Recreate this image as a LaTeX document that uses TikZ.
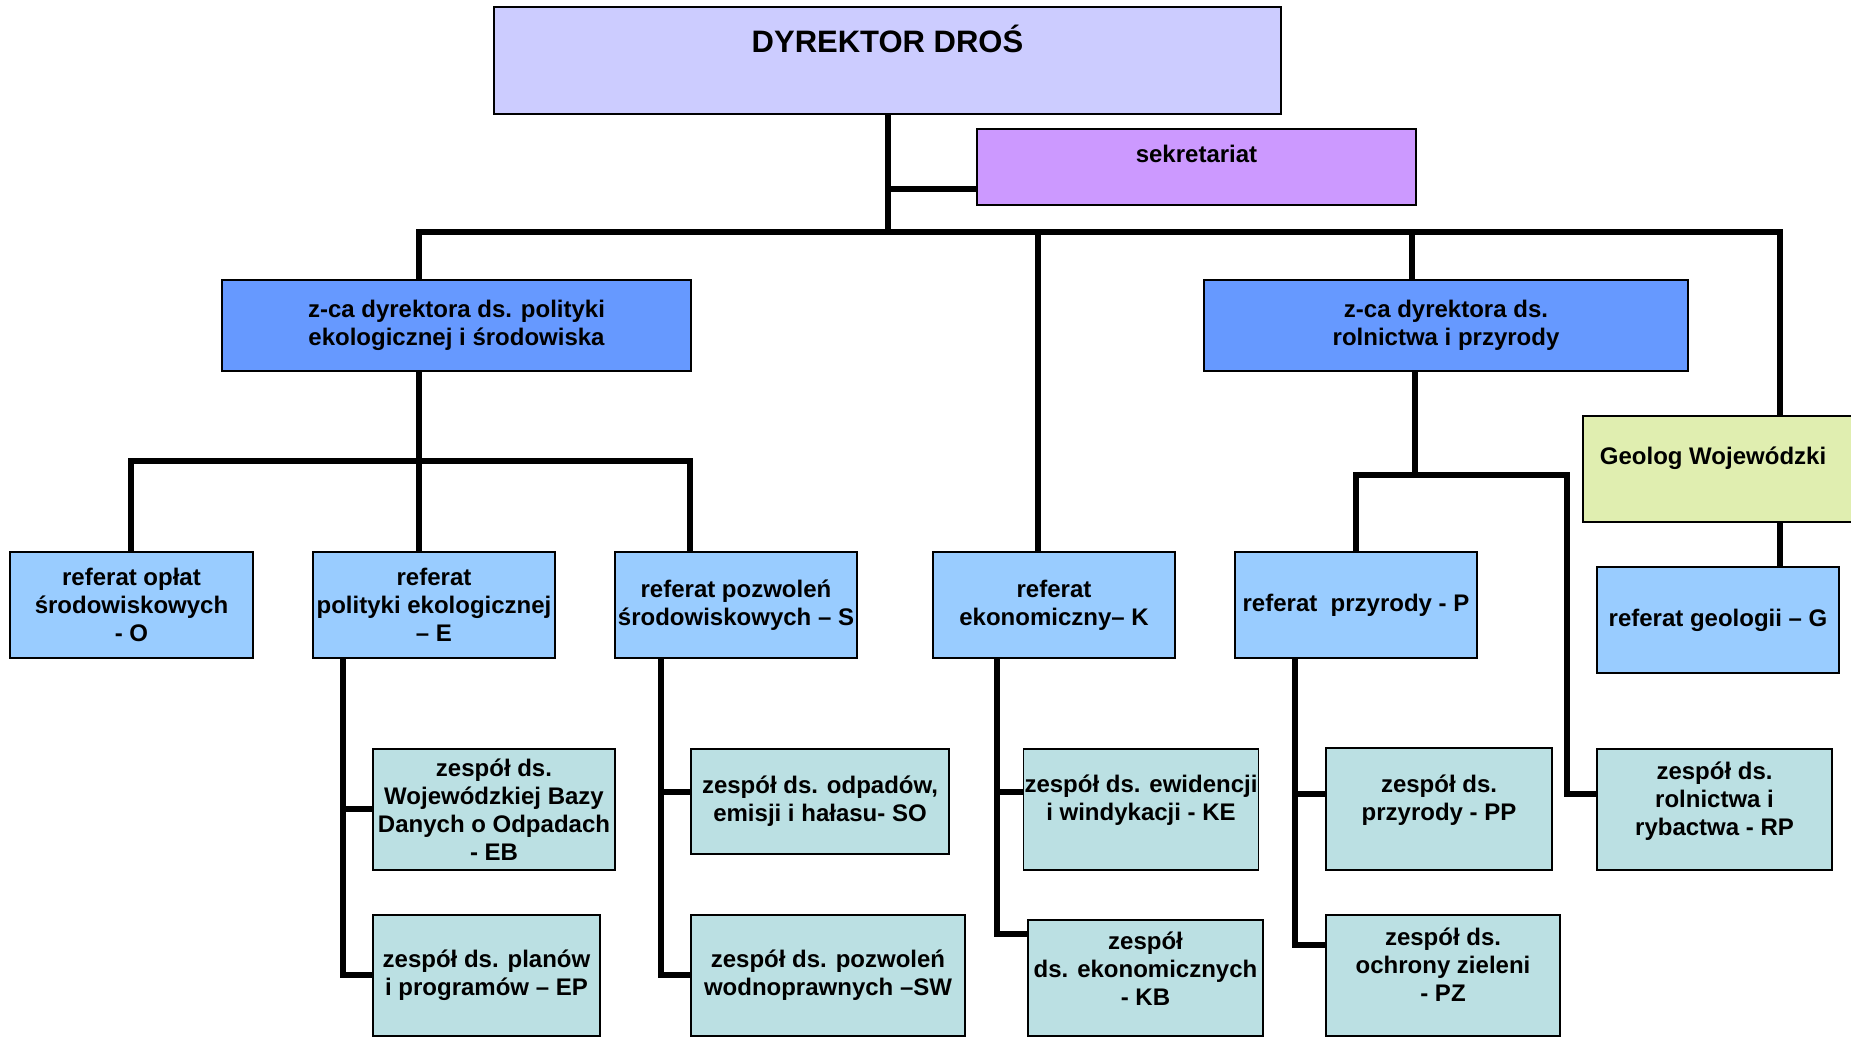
\documentclass[tikz,border=0pt]{standalone}
\usepackage{fontspec}
\setmainfont{Liberation Sans}

\definecolor{dyrfill}{HTML}{CCCCFF}
\definecolor{sekfill}{HTML}{CC99FF}
\definecolor{zcafill}{HTML}{6699FF}
\definecolor{reffill}{HTML}{99CCFF}
\definecolor{zesfill}{HTML}{BBE0E3}
\definecolor{geofill}{HTML}{E0EEB0}

\newcommand\lowpad[1]{\rule[-#1]{0pt}{#1}}

\begin{document}
\begin{tikzpicture}[x=0.5pt,y=-0.5pt,
  box/.style 2 args={draw, line width=0.8pt, minimum width=#1pt, minimum height=#2pt,
    inner sep=0.5pt, align=center, font=\bfseries\fontsize{12}{14}\selectfont},
  link/.style={line width=2.6pt}]

\useasboundingbox (0,0) rectangle (1851,1037);

\node[box={393.5}{53.5}, fill=dyrfill, font=\bfseries\fontsize{15.5}{18}\selectfont] (dyr) at (887.5,60.5) {DYREKTOR DROŚ\lowpad{22pt}};
\node[box={219.5}{38}, fill=sekfill] (sek) at (1196.5,167) {sekretariat\lowpad{13pt}};

\node[box={234.5}{45.5}, fill=zcafill] (zca1) at (456.5,325.5) {z-ca dyrektora ds. polityki\\ekologicznej i środowiska};
\node[box={242}{45.5}, fill=zcafill] (zca2) at (1446,325.5) {z-ca dyrektora ds.\\rolnictwa i przyrody};
\node[box={140}{53}, fill=geofill] (geo) at (1723,469) {Geolog Wojewódzki\hspace*{10pt}\lowpad{13pt}};

\node[box={121.5}{53}, fill=reffill] (refO) at (131.5,605) {referat opłat\\środowiskowych\\- O};
\node[box={121}{53}, fill=reffill] (refE) at (434,605) {referat\\polityki ekologicznej\\– E};
\node[box={121}{53}, fill=reffill] (refS) at (736,605) {referat pozwoleń\\środowiskowych – S};
\node[box={121}{53}, fill=reffill] (refK) at (1054,605) {referat\\ekonomiczny– K};
\node[box={121}{53}, fill=reffill] (refP) at (1356,605) {referat\ \ przyrody - P};
\node[box={121}{53}, fill=reffill] (refG) at (1718,620) {referat geologii – G};

\node[box={121}{60.5}, fill=zesfill] (EB) at (494,809.5) {zespół ds.\\Wojewódzkiej Bazy\\Danych o Odpadach\\- EB};
\node[box={113.5}{60.5}, fill=zesfill] (EP) at (486.5,975.5) {zespół ds. planów\\i programów – EP};
\node[box={129}{52.5}, fill=zesfill] (SO) at (820,801.5) {zespół ds. odpadów,\\emisji i hałasu- SO};
\node[box={137}{60.5}, fill=zesfill] (SW) at (828,975.5) {zespół ds. pozwoleń\\wodnoprawnych –SW};
\node[box={117}{60.5}, fill=zesfill] (KE) at (1141,809.5) {zespół ds. ewidencji\\i windykacji - KE\lowpad{12pt}};
\node[box={117.5}{58}, fill=zesfill] (KB) at (1145.5,978) {zespół\\ds. ekonomicznych\\- KB\lowpad{9pt}};
\node[box={113}{61}, fill=zesfill] (PP) at (1439,809) {zespół ds.\\przyrody - PP\lowpad{11pt}};
\node[box={117}{60.5}, fill=zesfill] (PZ) at (1443,975.5) {zespół ds.\\ochrony zieleni\\- PZ\lowpad{10.5pt}};
\node[box={117.5}{60.5}, fill=zesfill] (RP) at (1714.5,809.5) {zespół ds.\\rolnictwa i\\rybactwa - RP\lowpad{11pt}};

% top level
\coordinate (bus) at (888,232);
\coordinate (sekline) at (888,189);
\coordinate (b1) at (419,232);
\coordinate (b2) at (1038,232);
\coordinate (b3) at (1412,232);
\coordinate (b4) at (1780,232);

\draw[link] (dyr.south -| bus) -- (bus);
\draw[link] (sekline) -- (sekline -| sek.west);
\draw[link] (b1 |- zca1.north) -- (b1) -- (b4) -- (b4 |- geo.north);
\draw[link] (b2) -- (b2 |- refK.north);
\draw[link] (b3) -- (b3 |- zca2.north);
\draw[link] (b4 |- geo.south) -- (b4 |- refG.north);

% under the deputies
\coordinate (c1) at (131,461);
\coordinate (c2) at (419,461);
\coordinate (c3) at (690,461);
\draw[link] (c2 |- zca1.south) -- (c2);
\draw[link] (c1 |- refO.north) -- (c1) -- (c3) -- (c3 |- refS.north);
\draw[link] (c2) -- (c2 |- refE.north);

\coordinate (d1) at (1356,475);
\coordinate (d2) at (1415,475);
\coordinate (d3) at (1567,475);
\coordinate (rp) at (1567,794);
\draw[link] (d2 |- zca2.south) -- (d2);
\draw[link] (d1 |- refP.north) -- (d1) -- (d3) -- (rp) -- (rp -| RP.west);

% teams
\coordinate (e1) at (343,809);
\coordinate (e2) at (343,975);
\draw[link] (e2 |- refE.south) -- (e2) -- (e2 -| EP.west);
\draw[link] (e1) -- (e1 -| EB.west);

\coordinate (s1) at (661,792);
\coordinate (s2) at (661,975);
\draw[link] (s2 |- refS.south) -- (s2) -- (s2 -| SW.west);
\draw[link] (s1) -- (s1 -| SO.west);

\coordinate (k1) at (997,792);
\coordinate (k2) at (997,934);
\draw[link] (k2 |- refK.south) -- (k2) -- (k2 -| KB.west);
\draw[link] (k1) -- (k1 -| KE.west);

\coordinate (p1) at (1295,794);
\coordinate (p2) at (1295,945);
\draw[link] (p2 |- refP.south) -- (p2) -- (p2 -| PZ.west);
\draw[link] (p1) -- (p1 -| PP.west);

\end{tikzpicture}
\end{document}
